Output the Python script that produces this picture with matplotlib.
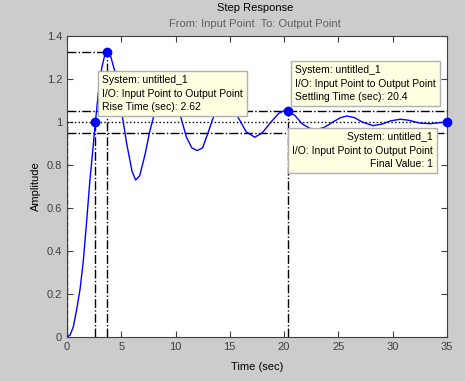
import numpy as np
import matplotlib
matplotlib.use("Agg")
import matplotlib.pyplot as plt

plt.rcParams["font.family"] = ["Liberation Sans", "DejaVu Sans"]

# step response
t = [0, 0.3, 0.6, 0.9, 1.2, 1.5, 1.8, 2.1, 2.4, 2.62, 2.9, 3.2, 3.5, 3.65,
     4.0, 4.5, 5.0, 5.5, 6.0, 6.33, 6.7, 7.2, 7.6, 7.9, 8.4, 8.8, 9.2, 9.6,
     10.1, 10.56, 11.0, 11.5, 12.0, 12.5, 13.0, 13.4, 13.9, 14.6, 15.3, 15.9,
     16.5, 17.3, 18.0, 18.8, 19.5, 20.1, 20.4, 21.0, 21.7, 22.4, 23.0, 23.7,
     24.5, 25.2, 25.8, 26.5, 27.2, 28.2, 29.0, 29.8, 30.7, 31.5, 32.5, 33.5,
     34.3, 35.0]
y = [0, 0.01, 0.05, 0.13, 0.22, 0.35, 0.53, 0.72, 0.88, 1.0, 1.14, 1.25, 1.315, 1.325,
     1.31, 1.22, 1.06, 0.9, 0.77, 0.73, 0.75, 0.85, 0.95, 1.01, 1.1, 1.16, 1.18, 1.16,
     1.09, 1.01, 0.93, 0.88, 0.867, 0.88, 0.95, 1.01, 1.07, 1.095, 1.06, 1.01,
     0.955, 0.929, 0.95, 1.0, 1.04, 1.055, 1.05, 1.03, 0.99, 0.97, 0.965, 0.975,
     1.0, 1.02, 1.028, 1.02, 1.0, 0.983, 0.99, 1.005, 1.013, 1.008, 0.995, 0.992,
     0.997, 1.0]

rise_t, rise_y = 2.62, 1.0
peak_t, peak_y = 3.65, 1.325
settle_t, settle_y = 20.4, 1.05
final_t, final_y = 35, 1.0
band = [0.95, 1.05]

W, H = 465, 381
bg = "#cccccc"
txtc = "#404040"
fig = plt.figure(figsize=(W / 100, H / 100), dpi=100, facecolor=bg)
ax = fig.add_axes([0.144, 0.1155, 0.817, 0.79])
ax.set_facecolor("white")

ax.plot(t, y, color="#0000ff", lw=1, zorder=3)

k = dict(color="black", lw=1, zorder=2)
ax.axhline(final_y, ls=":", **k)
for b in band:
    ax.axhline(b, ls="-.", **k)
ax.plot([0, peak_t], [peak_y, peak_y], ls="-.", **k)
ax.plot([peak_t, peak_t], [0, peak_y], ls="-.", **k)
ax.plot([rise_t, rise_t], [0, rise_y], ls="-.", **k)
ax.plot([0, 0], [0, rise_y], ls="--", **k)
ax.plot([settle_t, settle_t], [0, settle_y], ls="-.", **k)

for px, py in [(rise_t, rise_y), (peak_t, peak_y), (settle_t, settle_y), (final_t, final_y)]:
    ax.plot(px, py, "o", color="#0000ff", ms=6, zorder=6, clip_on=False)

ax.set_xlim(0, 35)
ax.set_ylim(0, 1.4)
ax.set_xticks(np.arange(0, 36, 5))
ax.set_yticks(np.arange(0, 1.41, 0.2))
ax.set_yticklabels(["0", "0.2", "0.4", "0.6", "0.8", "1", "1.2", "1.4"])
ax.tick_params(direction="in", length=4, top=True, right=True, labelsize=8,
               colors=txtc, labelcolor=txtc)
for s in ax.spines.values():
    s.set_color(txtc)

ax.set_xlabel("Time (sec)", fontsize=8, labelpad=7)
ax.set_ylabel("Amplitude", fontsize=8, labelpad=4)
fig.text(255 / W, 1 - 8 / H, "Step Response", ha="center", va="center", fontsize=8)
fig.text(255 / W, 1 - 24 / H, "From: Input Point  To: Output Point", ha="center",
         va="center", fontsize=8, color="#606060")


def tip(x, y, s, ha="left"):
    box = dict(boxstyle="square,pad=0.4", fc="#ffffe1", ec="#b0b0b0", lw=1)
    fig.text(x / W, 1 - y / H, s, fontsize=7.5, ha=ha, va="top", multialignment=ha,
             bbox=box, zorder=10, linespacing=1.45)


tip(102, 75, "System: untitled_1\nI/O: Input Point to Output Point\nRise Time (sec): 2.62")
tip(295, 65, "System: untitled_1\nI/O: Input Point to Output Point\nSettling Time (sec): 20.4")
tip(433, 132, "System: untitled_1\nI/O: Input Point to Output Point\nFinal Value: 1", ha="right")

fig.savefig("out.png", dpi=100, facecolor=bg)
